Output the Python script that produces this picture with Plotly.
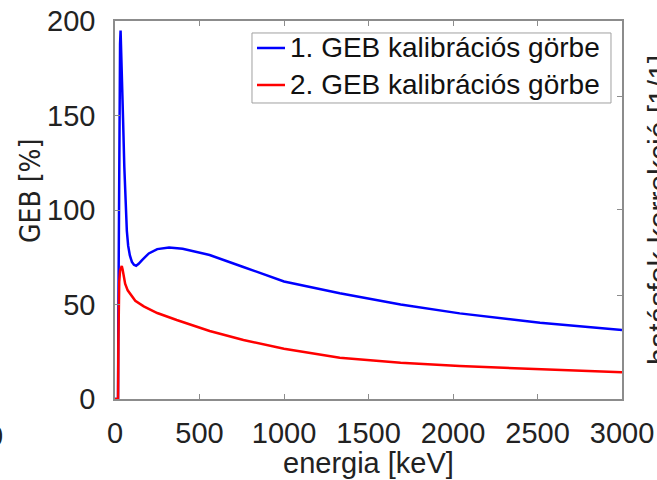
import plotly.graph_objects as go

# GEB calibration curves (energy in keV, GEB in %)
energy_1 = [0, 18, 20, 23, 27, 30, 33, 37, 42, 48, 55, 63, 70, 78, 88, 100, 112, 125, 140,
            160, 200, 250, 320, 400, 560, 755, 1000, 1330, 1690, 2040, 2515, 3000]
geb_1 = [0, 0, 45, 110, 165, 188, 195, 185, 167, 147, 123, 100, 89, 81, 76, 72.5, 71, 70.5, 71.5,
         73.5, 77, 79.3, 80.2, 79.5, 76.2, 70, 62.2, 56, 50, 45.3, 40.4, 36.5]

energy_2 = [0, 18, 20, 22, 25, 30, 35, 40, 45, 50, 60, 75, 90, 120, 170, 250, 365, 560, 760,
            1000, 1330, 1690, 2040, 2515, 3000]
geb_2 = [0, 0, 30, 50, 62, 68, 70, 70.4, 68.5, 66, 61, 57.5, 55.5, 52, 49, 45.5, 41.8, 36, 31.2,
         26.6, 21.8, 19.2, 17.4, 15.7, 14.1]

series_names = ["1. GEB kalibrációs görbe", "2. GEB kalibrációs görbe"]
series_colors = ["#0000ff", "#ff0000"]

x_ticks = [0, 500, 1000, 1500, 2000, 2500, 3000]
y_ticks = [0, 50, 100, 150, 200]
right_ticks = [1, 2, 5]

FONT = "Liberation Sans, Arial, sans-serif"
NARROW = "Liberation Sans Narrow, DejaVu Sans Condensed, Liberation Sans, sans-serif"
AXIS_GREY = "#8c8c8c"
TEXT = "#222222"

fig = go.Figure()
for xs, ys, name, color in [(energy_1, geb_1, series_names[0], series_colors[0]),
                            (energy_2, geb_2, series_names[1], series_colors[1])]:
    fig.add_trace(go.Scatter(x=xs, y=ys, mode="lines", name=name,
                             line=dict(color=color, width=2.5)))

# correction-factor axis on the right (no data drawn against it)
fig.add_trace(go.Scatter(x=[], y=[], yaxis="y2", showlegend=False, hoverinfo="skip"))

# boxed legend in the upper right of the plot area
LEG_X0, LEG_X1, LEG_Y0, LEG_Y1 = 0.2702, 0.9783, 0.7831, 0.9683
LEG_ROWS = [0.9286, 0.8307]
LEG_LINE = (0.2801, 0.3353)
LEG_TEXT_X = 0.3412

shapes = [dict(type="rect", xref="paper", yref="paper",
               x0=LEG_X0, x1=LEG_X1, y0=LEG_Y0, y1=LEG_Y1,
               line=dict(color="#a0a0a0", width=1), fillcolor="white", layer="above")]
annotations = []
for name, color, ry in zip(series_names, series_colors, LEG_ROWS):
    shapes.append(dict(type="line", xref="paper", yref="paper",
                       x0=LEG_LINE[0], x1=LEG_LINE[1], y0=ry, y1=ry,
                       line=dict(color=color, width=2.5), layer="above"))
    annotations.append(dict(text=name, xref="paper", yref="paper", x=LEG_TEXT_X, y=ry,
                            xanchor="left", yanchor="middle", showarrow=False,
                            font=dict(family=FONT, size=28, color="#111111")))

annotations += [
    dict(text="energia [keV]", xref="paper", yref="paper", x=0.5, y=-0.1693,
         xanchor="center", yanchor="middle", showarrow=False,
         font=dict(family=FONT, size=29, color=TEXT)),
    dict(text="GEB [%]", textangle=-90, xref="paper", yref="paper", x=-0.168, y=0.55,
         xanchor="center", yanchor="middle", showarrow=False,
         font=dict(family=NARROW, size=28, color=TEXT)),
    dict(text="hatásfok korrekció [1/1]", textangle=-90,
         xref="paper", yref="paper", x=1.071, y=0.5,
         xanchor="center", yanchor="middle", showarrow=False,
         font=dict(family=FONT, size=30, color=TEXT)),
    dict(text="0", xref="paper", yref="paper", x=-0.237, y=-0.098,
         xanchor="center", yanchor="middle", showarrow=False,
         font=dict(family=FONT, size=29, color=TEXT)),
]

fig.update_layout(
    width=657, height=480,
    margin=dict(l=115, r=35, t=21, b=81),
    paper_bgcolor="white", plot_bgcolor="white",
    font=dict(family=FONT, size=29, color=TEXT),
    showlegend=False,
    xaxis=dict(
        range=[0, 3000], tickvals=x_ticks, ticktext=[str(v) for v in x_ticks],
        ticks="inside", ticklen=5, tickcolor=AXIS_GREY, tickwidth=1,
        showline=True, linecolor=AXIS_GREY, linewidth=1.5, mirror="ticks",
        showgrid=False, zeroline=False, automargin=False,
        tickfont=dict(size=29), ticklabelstandoff=7,
    ),
    yaxis=dict(
        range=[0, 200], tickvals=y_ticks,
        ticks="inside", ticklen=5, tickcolor=AXIS_GREY, tickwidth=1,
        showline=True, linecolor=AXIS_GREY, linewidth=1.5,
        showgrid=False, zeroline=False, automargin=False,
        tickfont=dict(size=29), ticklabelstandoff=12,
    ),
    yaxis2=dict(
        overlaying="y", side="right", type="log",
        range=[-0.367, 0.967], tickvals=right_ticks,
        ticks="inside", ticklen=5, tickcolor=AXIS_GREY, tickwidth=1,
        showline=True, linecolor=AXIS_GREY, linewidth=1.5,
        showticklabels=False, showgrid=False, zeroline=False, automargin=False,
    ),
    shapes=shapes,
    annotations=annotations,
)

fig.write_html("out.html")
